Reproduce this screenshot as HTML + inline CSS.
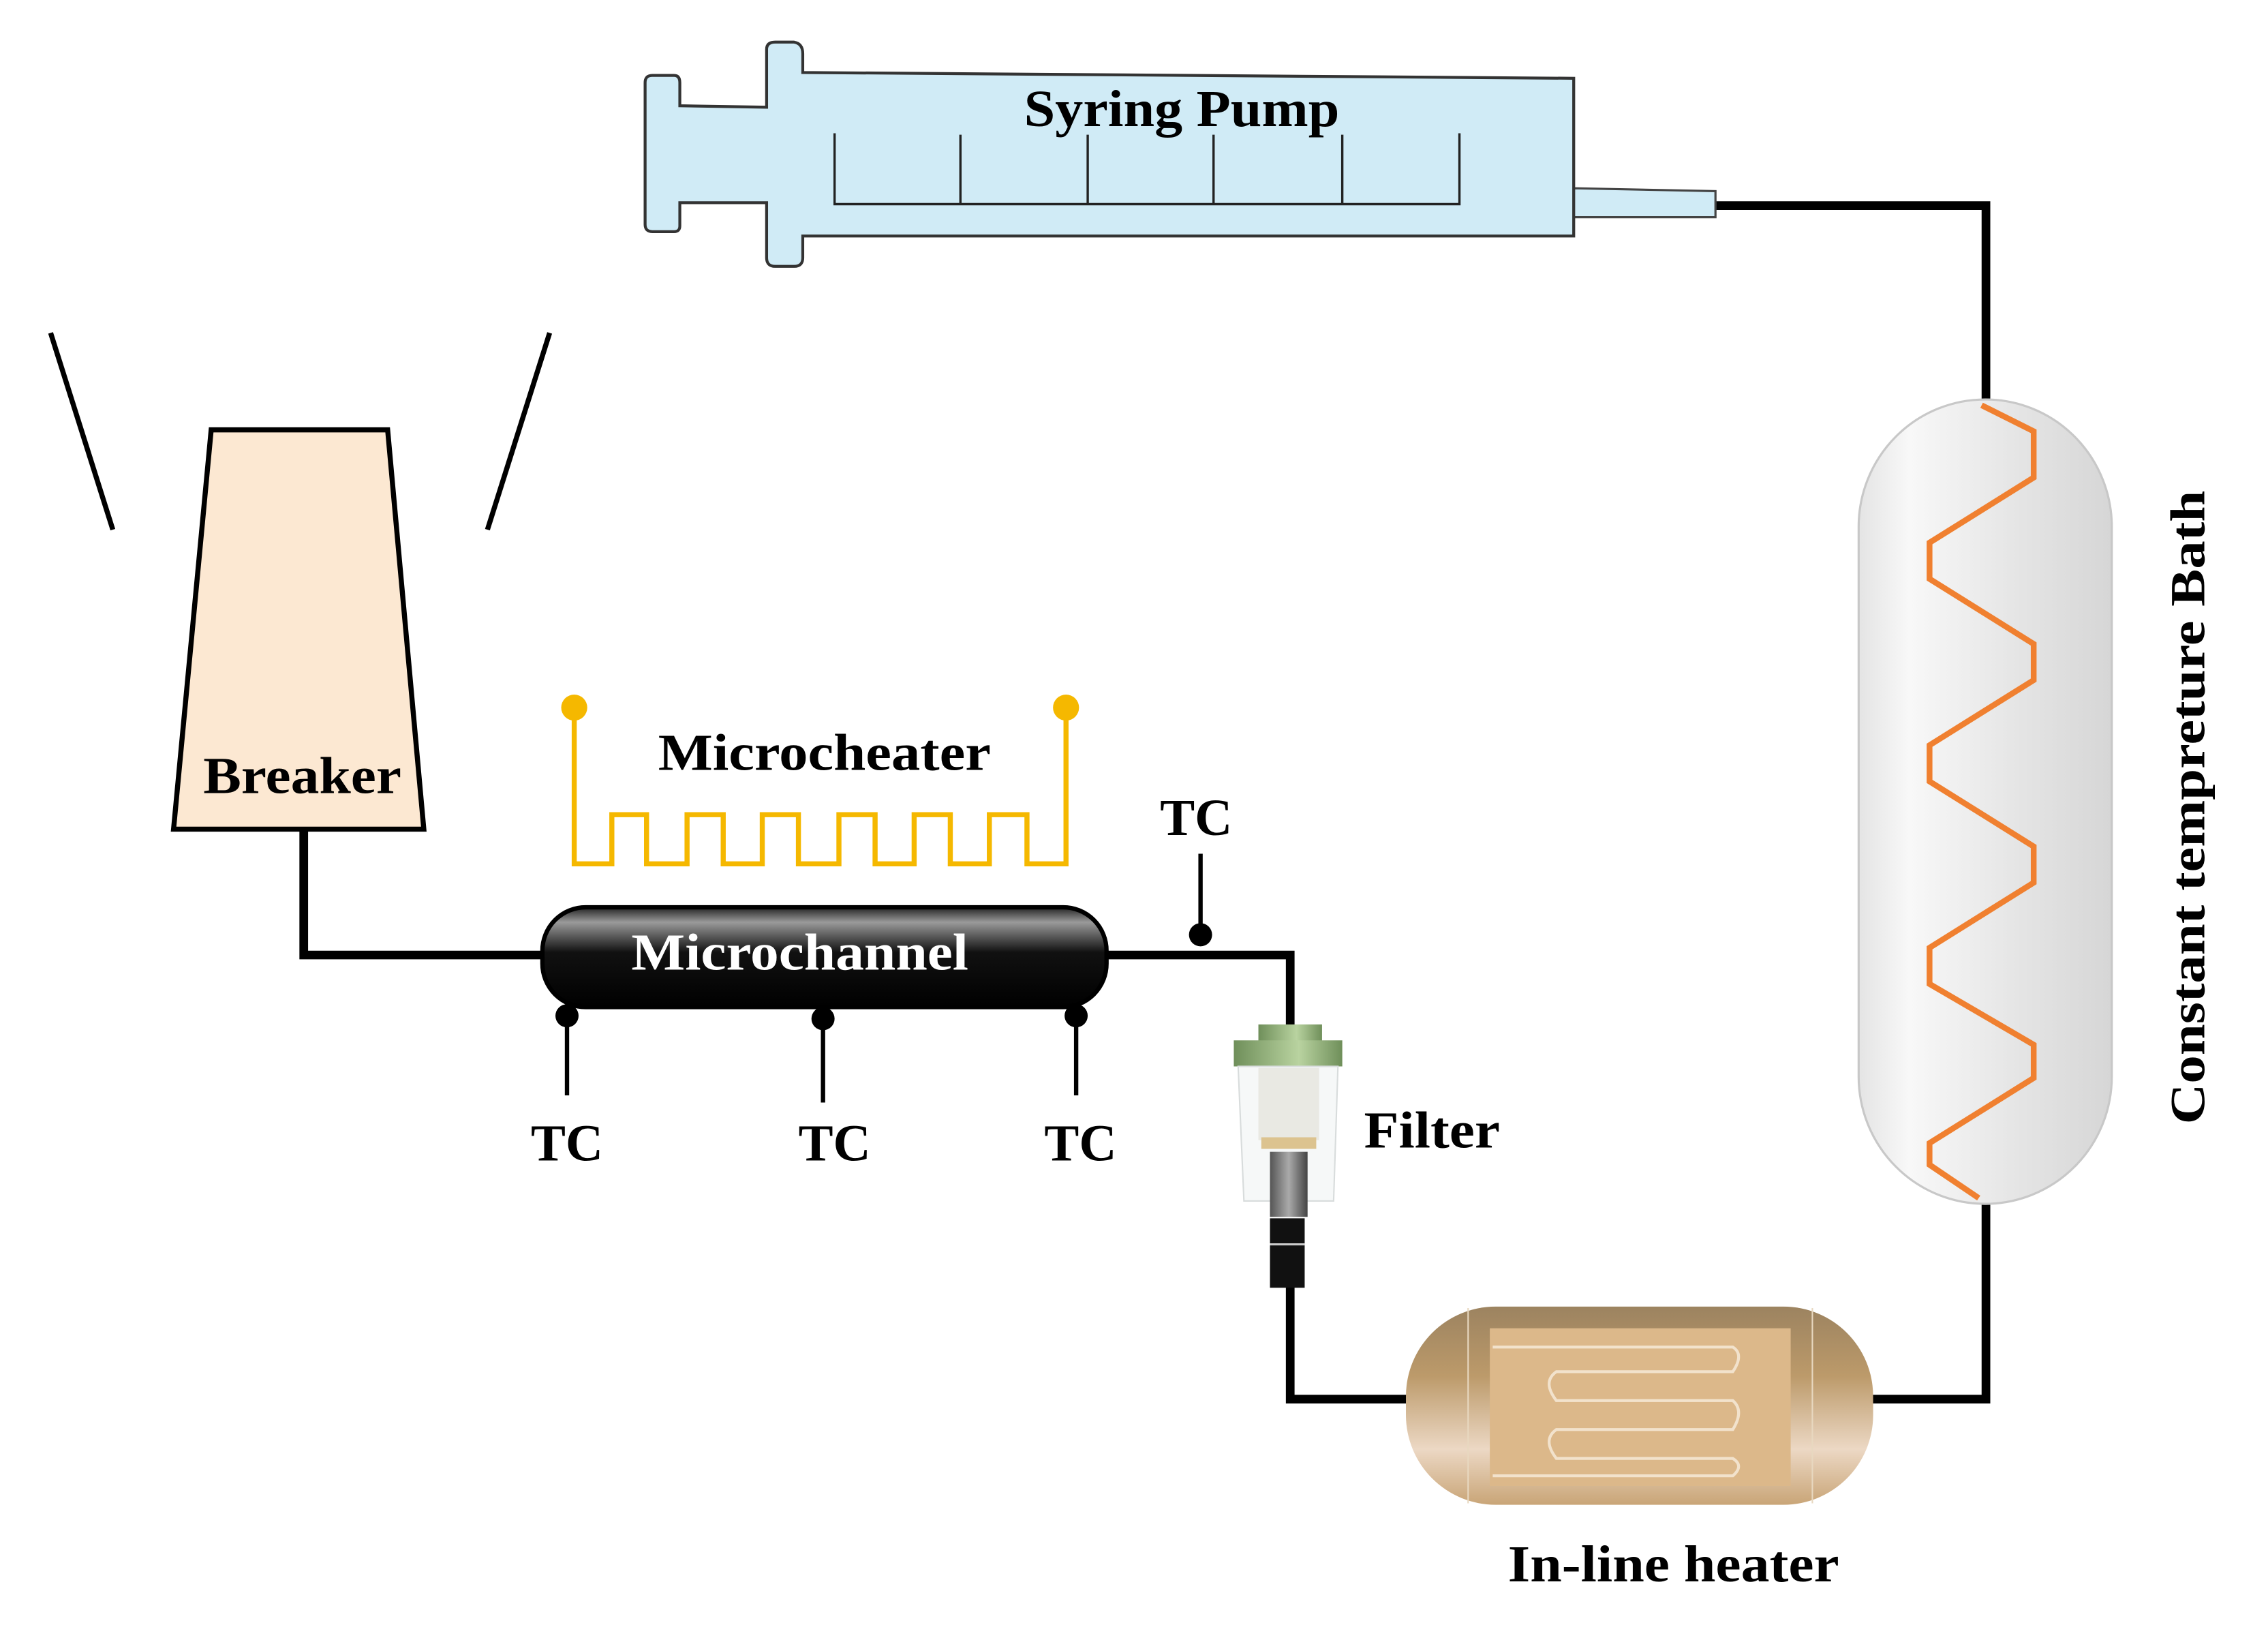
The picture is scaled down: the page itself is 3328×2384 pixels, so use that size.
<!DOCTYPE html>
<html><head><meta charset="utf-8"><style>html,body{margin:0;padding:0;background:#fff}svg{display:block}</style></head>
<body>
<svg width="3328" height="2384" viewBox="0 0 1568 1123" xmlns="http://www.w3.org/2000/svg" font-family="Liberation Serif, serif" font-weight="bold">
<defs>
<linearGradient id="bath" x1="0" y1="0" x2="1" y2="0"><stop offset="0" stop-color="#e4e4e4"/><stop offset="0.2" stop-color="#f8f8f8"/><stop offset="0.6" stop-color="#e6e6e6"/><stop offset="1" stop-color="#d6d6d6"/></linearGradient>
<linearGradient id="heat" x1="0" y1="0" x2="0" y2="1"><stop offset="0" stop-color="#9c8360"/><stop offset="0.35" stop-color="#bc9a6a"/><stop offset="0.72" stop-color="#ecd8c4"/><stop offset="1" stop-color="#c9a577"/></linearGradient>
<linearGradient id="mc" x1="0" y1="0" x2="0" y2="1"><stop offset="0" stop-color="#222"/><stop offset="0.15" stop-color="#9a9a9a"/><stop offset="0.45" stop-color="#111"/><stop offset="1" stop-color="#000"/></linearGradient>
<linearGradient id="cap" x1="0" y1="0" x2="1" y2="0"><stop offset="0" stop-color="#6f8f5a"/><stop offset="0.6" stop-color="#b9d3a0"/><stop offset="1" stop-color="#6f8f5a"/></linearGradient>
<linearGradient id="rod" x1="0" y1="0" x2="1" y2="0"><stop offset="0" stop-color="#555"/><stop offset="0.5" stop-color="#aaa"/><stop offset="1" stop-color="#444"/></linearGradient>
</defs>

<!-- tubes -->
<g fill="none" stroke="#000" stroke-width="6">
<polyline points="1186,142 1373,142 1373,280"/>
<polyline points="1373,828 1373,967 1290,967"/>
<polyline points="975,967 892,967 892,888"/>
<polyline points="892,712 892,660 760,660"/>
<polyline points="380,660 210,660 210,572"/>
</g>

<!-- syringe -->
<path d="M1088,130 L1186,132 L1186,150 L1088,150 Z" fill="#d0ebf6" stroke="#444" stroke-width="1.5"/>
<path d="M451,52 L466,52 Q470,52 470,57 L470,73 L530,74 L530,34 Q530,29 536,29 L549,29 Q555,30 555,37 L555,50 L1088,54 L1088,163 L555,163 L555,178 Q555,184 549,184 L536,184 Q530,184 530,178 L530,140 L470,140 L470,156 Q470,160 466,160 L451,160 Q446,160 446,155 L446,57 Q446,52 451,52 Z" fill="#d0ebf6" stroke="#333" stroke-width="2"/>
<g stroke="#222" stroke-width="1.6" fill="none">
<polyline points="577,92 577,141 1009,141 1009,92"/>
<line x1="664" y1="93" x2="664" y2="141"/><line x1="752" y1="93" x2="752" y2="141"/>
<line x1="839" y1="93" x2="839" y2="141"/><line x1="928" y1="93" x2="928" y2="141"/>
</g>
<text x="817" y="87" font-size="36" text-anchor="middle" textLength="218" lengthAdjust="spacingAndGlyphs">Syring Pump</text>

<!-- bath -->
<rect x="1285" y="276" width="175" height="556" rx="88" fill="url(#bath)" stroke="#c8c8c8" stroke-width="1.5"/>
<polyline fill="none" stroke="#f08030" stroke-width="4" points="1370,280 1406,298 1406,330 1334,375 1334,400 1406,445 1406,470 1334,515 1334,540 1406,585 1406,610 1334,655 1334,680 1406,722 1406,745 1334,790 1334,805 1368,828"/>
<text transform="translate(1524,558) rotate(-90)" font-size="34" text-anchor="middle" textLength="438" lengthAdjust="spacingAndGlyphs">Constant tempreture Bath</text>

<!-- heater -->
<rect x="972" y="903" width="323" height="137" rx="62" fill="url(#heat)"/>
<line x1="1015" y1="904" x2="1015" y2="1039" stroke="#e8d8c0" stroke-width="1"/>
<line x1="1253" y1="904" x2="1253" y2="1039" stroke="#e8d8c0" stroke-width="1"/>
<rect x="1030" y="918" width="208" height="109" fill="#dcb88a"/>
<g fill="none" stroke="#f2e2cc" stroke-width="2">
<path d="M1032,931 L1198,931 Q1206,936 1198,948 L1076,948 Q1066,955 1076,968 L1198,968 Q1206,975 1198,988 L1076,988 Q1066,995 1076,1008 L1198,1008 Q1206,1013 1198,1020 L1032,1020"/>
</g>
<text x="1157" y="1093" font-size="36" text-anchor="middle" textLength="229" lengthAdjust="spacingAndGlyphs">In-line heater</text>

<!-- filter -->
<rect x="870" y="708" width="44" height="12" fill="url(#cap)"/>
<rect x="853" y="719" width="75" height="18" fill="url(#cap)"/>
<path d="M856,737 L925,737 L922,830 L860,830 Z" fill="#f6f8f8" stroke="#d8dcdc" stroke-width="1"/>
<rect x="870" y="738" width="42" height="50" fill="#e9e9e3"/>
<rect x="872" y="786" width="38" height="8" fill="#dcc38f"/>
<rect x="878" y="796" width="26" height="45" fill="url(#rod)"/>
<rect x="878" y="842" width="24" height="48" fill="#111"/>
<line x1="878" y1="860" x2="902" y2="860" stroke="#ccc" stroke-width="1.5"/>
<text x="943" y="793" font-size="36" textLength="94" lengthAdjust="spacingAndGlyphs">Filter</text>

<!-- microchannel -->
<rect x="375" y="627" width="390" height="69" rx="30" fill="url(#mc)" stroke="#000" stroke-width="3"/>
<text x="553" y="670" font-size="36" fill="#fff" text-anchor="middle" textLength="233" lengthAdjust="spacingAndGlyphs">Microchannel</text>

<!-- TCs -->
<g stroke="#000" stroke-width="3">
<line x1="830" y1="590" x2="830" y2="646"/>
<line x1="392" y1="700" x2="392" y2="757"/>
<line x1="569" y1="702" x2="569" y2="762"/>
<line x1="744" y1="700" x2="744" y2="757"/>
</g>
<g fill="#000">
<circle cx="830" cy="646" r="8"/><circle cx="392" cy="702" r="8"/><circle cx="569" cy="704" r="8"/><circle cx="744" cy="702" r="8"/>
</g>
<g font-size="36" text-anchor="middle">
<text x="827" y="577" textLength="50" lengthAdjust="spacingAndGlyphs">TC</text>
<text x="392" y="802" textLength="50" lengthAdjust="spacingAndGlyphs">TC</text>
<text x="577" y="802" textLength="50" lengthAdjust="spacingAndGlyphs">TC</text>
<text x="747" y="802" textLength="50" lengthAdjust="spacingAndGlyphs">TC</text>
</g>

<!-- microheater -->
<polyline fill="none" stroke="#f5b800" stroke-width="3.5" points="397,489 397,597 423,597 423,563 447,563 447,597 475,597 475,563 500,563 500,597 527,597 527,563 552,563 552,597 580,597 580,563 605,563 605,597 632,597 632,563 657,563 657,597 684,597 684,563 710,563 710,597 737,597 737,489"/>
<circle cx="397" cy="489" r="9" fill="#f5b800"/><circle cx="737" cy="489" r="9" fill="#f5b800"/>
<text x="570" y="532" font-size="36" text-anchor="middle" textLength="230" lengthAdjust="spacingAndGlyphs">Microcheater</text>

<!-- breaker -->
<polygon points="146,297 268,297 293,573 120,573" fill="#fce8d2" stroke="#000" stroke-width="3.5"/>
<text x="209" y="548" font-size="36" text-anchor="middle" textLength="137" lengthAdjust="spacingAndGlyphs">Breaker</text>
<g stroke="#000" stroke-width="3.5">
<line x1="35" y1="230" x2="78" y2="366"/>
<line x1="380" y1="230" x2="337" y2="366"/>
</g>
</svg>
</body></html>
